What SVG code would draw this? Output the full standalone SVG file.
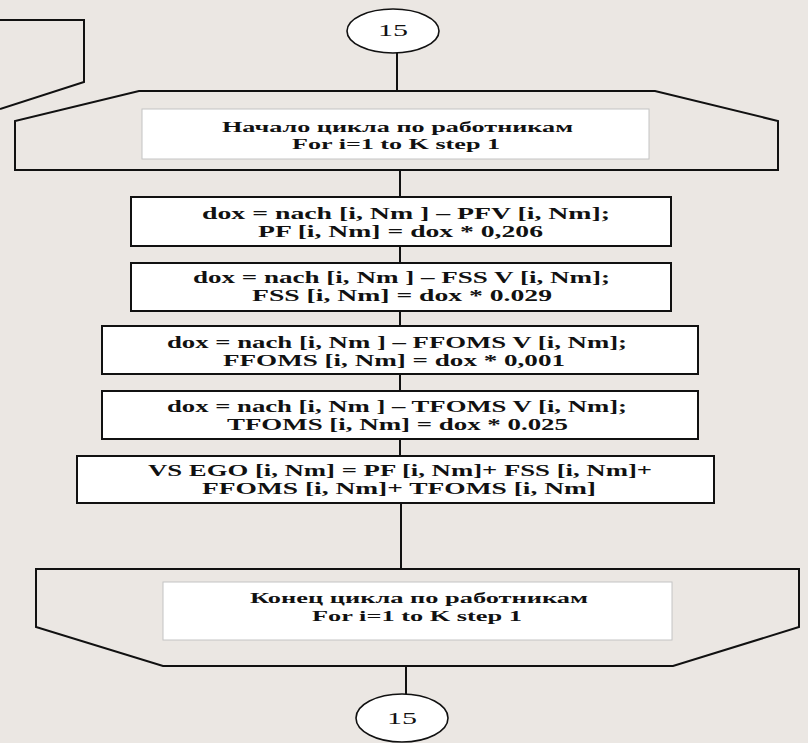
<svg xmlns="http://www.w3.org/2000/svg" width="808" height="743" viewBox="0 0 808 743">
<style>
.bg{fill:#ebe7e3}
.ln{fill:none;stroke:#111;stroke-width:2}
.box{fill:#ffffff;stroke:#111;stroke-width:2}
.inner{fill:#ffffff;stroke:#c4c4c4;stroke-width:1}
.ell{fill:#ffffff;stroke:#111;stroke-width:1.6}
.t{font-family:"Liberation Serif","DejaVu Serif",serif;font-weight:bold;font-size:16px;fill:#111}
.tl{font-family:"Liberation Serif","DejaVu Serif",serif;font-weight:bold;font-size:15px;fill:#111}
.tn{font-family:"Liberation Serif","DejaVu Serif",serif;font-size:16px;fill:#111}
</style>
<rect class="bg" x="0" y="0" width="808" height="743"/>

<g id="prev-shape">
<polyline class="ln" points="0,20 84,20 84,82 0,109"/>
</g>

<g id="connectors">
<line class="ln" x1="397" y1="53" x2="397" y2="91"/>
<line class="ln" x1="400" y1="170" x2="400" y2="197"/>
<line class="ln" x1="400" y1="246" x2="400" y2="263"/>
<line class="ln" x1="400" y1="311" x2="400" y2="326"/>
<line class="ln" x1="400" y1="374" x2="400" y2="391"/>
<line class="ln" x1="400" y1="439" x2="400" y2="456"/>
<line class="ln" x1="401" y1="503" x2="401" y2="569"/>
<line class="ln" x1="406" y1="666" x2="406" y2="694"/>
</g>

<g id="conn-top">
<ellipse class="ell" cx="393" cy="31" rx="46" ry="22"/>
<text class="tn" x="378" y="36" textLength="30" lengthAdjust="spacingAndGlyphs">15</text>
</g>

<g id="loop-start">
<polygon class="ln" points="139,91 655,91 778,121 778,170 15,170 15,121"/>
<rect class="inner" x="142" y="109" width="507" height="50"/>
<text class="tl" x="222" y="132" textLength="351" lengthAdjust="spacingAndGlyphs">Начало цикла по работникам</text>
<text class="tl" x="292" y="149" textLength="208" lengthAdjust="spacingAndGlyphs">For i=1 to K step 1</text>
</g>

<g id="box-pf">
<rect class="box" x="131" y="197" width="540" height="49"/>
<text class="t" x="202" y="219" textLength="408" lengthAdjust="spacingAndGlyphs">dox = nach [i, Nm ] – PFV [i, Nm];</text>
<text class="t" x="258" y="237" textLength="285" lengthAdjust="spacingAndGlyphs">PF [i, Nm] = dox * 0,206</text>
</g>

<g id="box-fss">
<rect class="box" x="131" y="263" width="540" height="48"/>
<text class="t" x="193" y="283" textLength="417" lengthAdjust="spacingAndGlyphs">dox = nach [i, Nm ] – FSS V [i, Nm];</text>
<text class="t" x="252" y="301" textLength="300" lengthAdjust="spacingAndGlyphs">FSS [i, Nm] = dox * 0.029</text>
</g>

<g id="box-ffoms">
<rect class="box" x="102" y="326" width="596" height="48"/>
<text class="t" x="167" y="348" textLength="460" lengthAdjust="spacingAndGlyphs">dox = nach [i, Nm ] – FFOMS V [i, Nm];</text>
<text class="t" x="223" y="366" textLength="342" lengthAdjust="spacingAndGlyphs">FFOMS [i, Nm] = dox * 0,001</text>
</g>

<g id="box-tfoms">
<rect class="box" x="102" y="391" width="596" height="48"/>
<text class="t" x="167" y="412" textLength="460" lengthAdjust="spacingAndGlyphs">dox = nach [i, Nm ] – TFOMS V [i, Nm];</text>
<text class="t" x="227" y="430" textLength="341" lengthAdjust="spacingAndGlyphs">TFOMS [i, Nm] = dox * 0.025</text>
</g>

<g id="box-vsego">
<rect class="box" x="77" y="456" width="637" height="47"/>
<text class="t" x="148" y="476" textLength="504" lengthAdjust="spacingAndGlyphs">VS EGO [i, Nm] = PF [i, Nm]+ FSS [i, Nm]+</text>
<text class="t" x="202" y="494" textLength="394" lengthAdjust="spacingAndGlyphs">FFOMS [i, Nm]+ TFOMS [i, Nm]</text>
</g>

<g id="loop-end">
<polygon class="ln" points="36,569 799,569 799,627 673,666 163,666 36,627"/>
<rect class="inner" x="163" y="582" width="509" height="58"/>
<text class="tl" x="250" y="603" textLength="338" lengthAdjust="spacingAndGlyphs">Конец цикла по работникам</text>
<text class="tl" x="312" y="621" textLength="210" lengthAdjust="spacingAndGlyphs">For i=1 to K step 1</text>
</g>

<g id="conn-bottom">
<ellipse class="ell" cx="402" cy="718" rx="46" ry="24"/>
<text class="tn" x="387" y="724" textLength="30" lengthAdjust="spacingAndGlyphs">15</text>
</g>
</svg>
